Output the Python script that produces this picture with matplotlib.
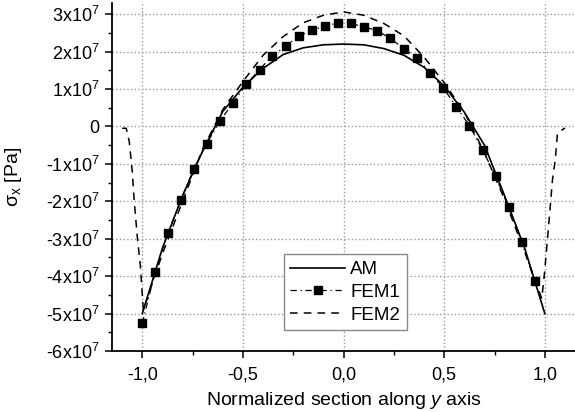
import matplotlib
matplotlib.use("Agg")
import matplotlib.pyplot as plt
from matplotlib.ticker import MultipleLocator, FixedLocator

plt.rcParams['font.family'] = ['Liberation Sans', 'DejaVu Sans']
plt.rcParams['mathtext.fontset'] = 'custom'
plt.rcParams['mathtext.rm'] = 'Liberation Sans'
plt.rcParams['mathtext.it'] = 'Liberation Sans:italic'

# AM analytical solution (values in 1e7 Pa)
am_x = [-1.0, -0.9, -0.8, -0.7, -0.6, -0.5, -0.4, -0.3, -0.2, -0.1, 0.0,
        0.1, 0.2, 0.3, 0.4, 0.5, 0.6, 0.7, 0.8, 0.9, 1.0]
am_y = [-5.0, -3.25, -1.85, -0.65, 0.4, 1.05, 1.55, 1.92, 2.1, 2.18, 2.2,
        2.18, 2.08, 1.9, 1.58, 1.08, 0.38, -0.5, -1.85, -3.25, -5.0]

# FEM1 (squares)
fem1_x = [-1.0, -0.937, -0.873, -0.808, -0.745, -0.681, -0.615, -0.549, -0.483,
          -0.417, -0.354, -0.288, -0.223, -0.157, -0.093, -0.026, 0.036, 0.101,
          0.167, 0.232, 0.299, 0.364, 0.43, 0.495, 0.56, 0.625, 0.691, 0.755,
          0.82, 0.886, 0.949]
fem1_y = [-5.26, -3.89, -2.85, -1.96, -1.14, -0.47, 0.14, 0.63, 1.13,
          1.52, 1.89, 2.14, 2.41, 2.57, 2.68, 2.77, 2.75, 2.66,
          2.56, 2.35, 2.08, 1.83, 1.44, 1.03, 0.53, 0.02, -0.63, -1.32,
          -2.16, -3.10, -4.13]

# FEM2 (dashed)
fem2_x = [-1.10, -1.08, -1.065, -1.05, -1.04, -1.025, -1.01, -0.995,
          -0.9, -0.8, -0.7, -0.6, -0.5, -0.4, -0.3, -0.2, -0.1, 0.0,
          0.1, 0.2, 0.3, 0.4, 0.5, 0.6, 0.7, 0.8, 0.9, 0.985,
          0.997, 1.013, 1.027, 1.038, 1.052, 1.063, 1.10]
fem2_y = [-0.05, -0.05, -0.4, -1.2, -2.0, -2.95, -3.7, -4.9,
          -3.4, -2.0, -0.6, 0.45, 1.2, 1.9, 2.4, 2.77, 2.97, 3.06,
          2.97, 2.75, 2.42, 1.85, 1.17, 0.38, -0.7, -1.95, -3.35, -4.6,
          -4.0, -3.03, -2.14, -1.43, -0.89, -0.18, -0.04]

scale = 1e7
x_ticks = [-1.0, -0.5, 0.0, 0.5, 1.0]
x_labels = ['-1,0', '-0,5', '0,0', '0,5', '1,0']
y_ticks = [3, 2, 1, 0, -1, -2, -3, -4, -5, -6]
y_labels = [('0' if v == 0 else '%dx10$^7$' % v) for v in y_ticks]

fig = plt.figure(figsize=(5.75, 4.12), dpi=100)
ax = fig.add_axes([0.195, 0.148, 0.805, 0.845])

ax.plot(am_x, [v * scale for v in am_y], '-', color='black', lw=1.2, label='AM')
ax.plot(fem1_x, [v * scale for v in fem1_y], linestyle=(0, (5, 3, 1, 3)),
        color='black', lw=0.9, marker='s', markersize=5.5, label='FEM1')
ax.plot(fem2_x, [v * scale for v in fem2_y], linestyle=(0, (5, 4)),
        color='black', lw=1.1, label='FEM2')

ax.set_xlim(-1.15, 1.15)
ax.set_ylim(-6e7, 3.3e7)

ax.xaxis.set_major_locator(FixedLocator(x_ticks))
ax.set_xticklabels(x_labels)
ax.xaxis.set_minor_locator(MultipleLocator(0.25))
ax.yaxis.set_major_locator(FixedLocator([v * scale for v in y_ticks]))
ax.set_yticklabels(y_labels)
ax.yaxis.set_minor_locator(MultipleLocator(0.5e7))

ax.tick_params(which='major', direction='out', length=5, width=1.1,
               labelsize=13, colors='black')
ax.tick_params(axis='x', which='major', pad=6)
ax.tick_params(axis='y', which='major', pad=4)
ax.tick_params(which='minor', direction='out', length=3, width=1.0)

for side in ['top', 'right']:
    ax.spines[side].set_visible(False)
for side in ['left', 'bottom']:
    ax.spines[side].set_linewidth(1.3)

ax.grid(True, which='major', linestyle=':', color='#999999', lw=1.0)

ax.set_xlabel('Normalized section along $\\mathit{y}$ axis', fontsize=14,
              labelpad=5)
ax.set_ylabel('σ$_\\mathrm{x}$ [Pa]', fontsize=14)
ax.yaxis.set_label_coords(-0.19, 0.5)

leg = ax.legend(loc='lower left', bbox_to_anchor=(0.371, 0.06), fontsize=13.5,
                frameon=True, fancybox=False, handlelength=2.9,
                borderpad=0.35, labelspacing=0.3, handletextpad=0.3,
                borderaxespad=0)
leg.get_frame().set_edgecolor('#888888')
leg.get_frame().set_linewidth(1.0)
leg.get_frame().set_alpha(1.0)

fig.savefig('out.png', dpi=100)
